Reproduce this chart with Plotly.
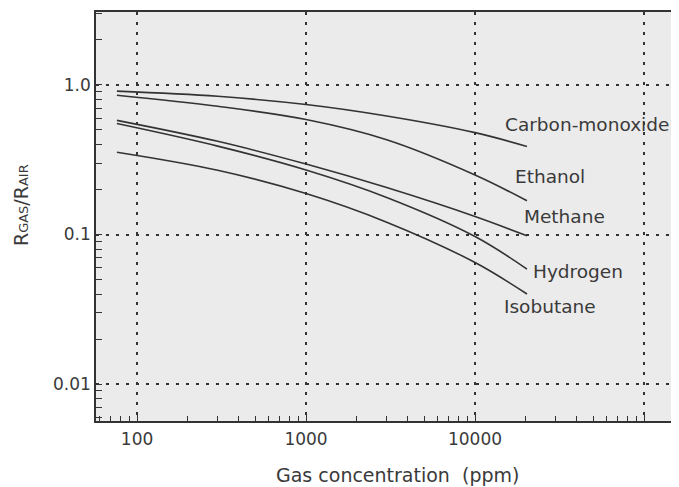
import math
import plotly.graph_objects as go

conc = [76, 300, 1000, 3000, 10000, 20300]
gas_names = ["Carbon-monoxide", "Ethanol", "Methane", "Hydrogen", "Isobutane"]
co = [0.91, 0.84, 0.74, 0.62, 0.48, 0.388]
ethanol = [0.853, 0.72, 0.587, 0.43, 0.25, 0.168]
methane = [0.58, 0.42, 0.296, 0.206, 0.132, 0.098]
hydrogen = [0.552, 0.39, 0.27, 0.177, 0.097, 0.0587]
isobutane = [0.355, 0.269, 0.188, 0.121, 0.065, 0.040]
series = [co, ethanol, methane, hydrogen, isobutane]

label_x = [14660, 16790, 18970, 21430, 14390]
label_y = [0.548, 0.2425, 0.133, 0.057, 0.0332]

x_ticks = [100, 1000, 10000, 100000]
x_ticktext = ["100", "1000", "10000", ""]
y_ticks = [0.01, 0.1, 1.0]
y_ticktext = ["0.01", "0.1", "1.0"]

FONT = "DejaVu Sans, sans-serif"
INK = "#333333"
TXT = "#3a3a3a"

fig = go.Figure()
for name, vals in zip(gas_names, series):
    fig.add_trace(go.Scatter(x=conc, y=vals, mode="lines", name=name,
                             line=dict(color=INK, width=1.6, shape="spline", smoothing=1.0),
                             showlegend=False, hoverinfo="skip"))

for name, lx, ly in zip(gas_names, label_x, label_y):
    fig.add_annotation(x=math.log10(lx), y=math.log10(ly), text=name, showarrow=False,
                       xanchor="left", yanchor="middle",
                       font=dict(family=FONT, size=18.5, color=TXT))

# axis titles
fig.add_annotation(xref="paper", yref="paper", x=0.517, y=-0.132,
                   text="Gas concentration  (ppm)", showarrow=False,
                   xanchor="center", yanchor="middle",
                   font=dict(family=FONT, size=19, color=TXT))
fig.add_annotation(xref="paper", yref="paper", x=-0.1286, y=0.528,
                   text="R<span style='font-size:13px'>GAS</span>/R<span style='font-size:13px'>AIR</span>",
                   showarrow=False, textangle=-90,
                   xanchor="center", yanchor="middle",
                   font=dict(family=FONT, size=19, color=TXT))

fig.update_layout(
    width=671, height=479,
    margin=dict(l=88, r=0, t=4, b=66),
    paper_bgcolor="white", plot_bgcolor="#ebebeb",
    font=dict(family=FONT, size=17, color=TXT),
    showlegend=False,
)
fig.update_xaxes(
    type="log", range=[1.757, 5.207], automargin=False,
    tickmode="array", tickvals=x_ticks, ticktext=x_ticktext,
    ticks="inside", ticklen=6, tickcolor=INK,
    showgrid=True, gridcolor=INK, gridwidth=1.8, griddash="3px,7px",
    showline=True, linecolor=INK, linewidth=1.6, mirror=True,
    zeroline=False,
    minor=dict(ticks="inside", ticklen=5, tickcolor=INK, dtick="D1", showgrid=False),
    tickfont=dict(size=17, color=TXT), ticklabelstandoff=2,
)
fig.update_yaxes(
    type="log", range=[-2.247, 0.488], automargin=False,
    tickmode="array", tickvals=y_ticks, ticktext=y_ticktext,
    ticks="inside", ticklen=6, tickcolor=INK,
    showgrid=True, gridcolor=INK, gridwidth=1.8, griddash="3px,7px",
    showline=True, linecolor=INK, linewidth=1.6, mirror=False,
    zeroline=False,
    minor=dict(ticks="inside", ticklen=6, tickcolor=INK, dtick="D1", showgrid=False),
    tickfont=dict(size=17, color=TXT),
)

fig.write_html("out.html")
